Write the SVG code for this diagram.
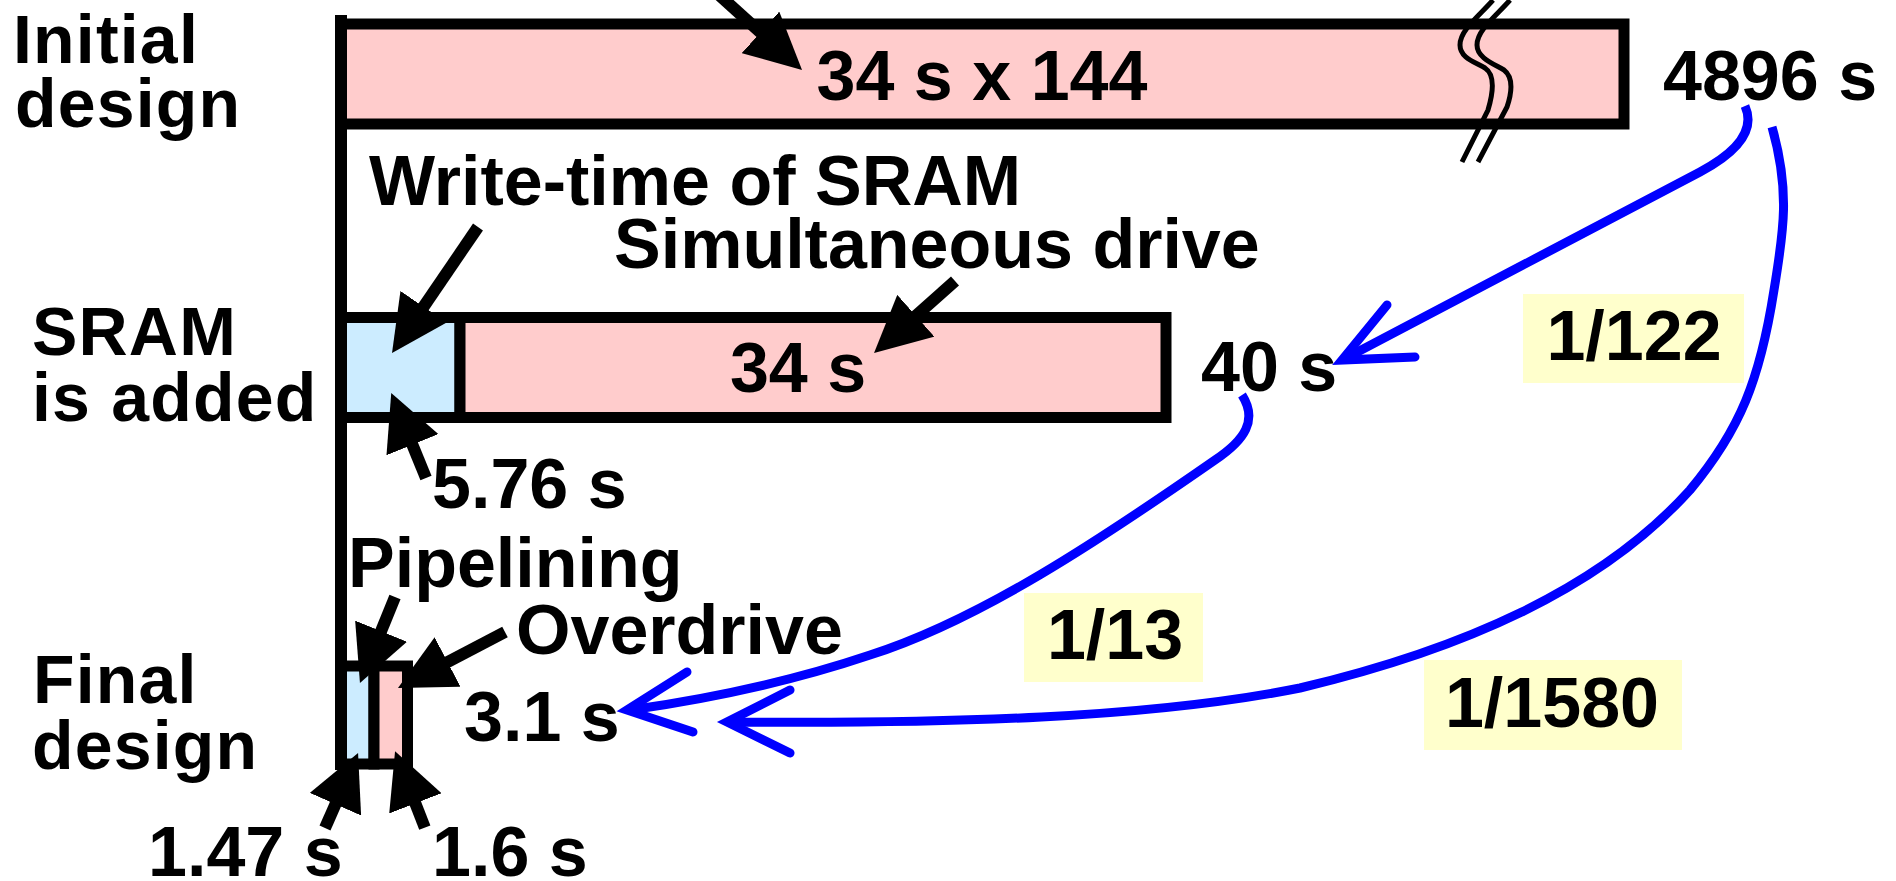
<svg xmlns="http://www.w3.org/2000/svg" width="1896" height="881" viewBox="0 0 1896 881">
<style>
.t{font-family:"Liberation Sans",Arial,sans-serif;font-weight:bold;font-size:70px;fill:#000}
.lb{font-size:68px;letter-spacing:1.2px}
.m{text-anchor:middle}
.pink{fill:#FFCCCC;stroke:#000;stroke-width:11}
.blue{fill:#CCECFF;stroke:#000;stroke-width:11}
.arr{stroke:#000;stroke-width:12;fill:none;marker-end:url(#ah)}
.bc{stroke:#0000FF;stroke-width:9;fill:none}
.bh{stroke:#0000FF;stroke-width:9;fill:none;stroke-linecap:round;stroke-linejoin:miter}
.brk{stroke:#000;stroke-width:5;fill:none}
.box{fill:#FFFFCC}
</style>
<defs>
<marker id="ah" markerUnits="userSpaceOnUse" viewBox="0 0 56 56" refX="36" refY="28" markerWidth="56" markerHeight="56" orient="auto">
<path d="M0,0 L56,28 L0,56 z" fill="#000"/>
</marker>
</defs>
<rect width="1896" height="881" fill="#fff"/>

<g id="row-initial">
<rect class="pink" x="341" y="24" width="1283" height="100"/>
<path class="brk" d="M1493,0 C1480,15 1460,30 1460,45 C1460,58 1475,62 1485,68 C1494,74 1494,90 1488,110 L1462,162"/>
<path class="brk" d="M1510,0 C1497,15 1477,30 1477,45 C1477,58 1494,64 1504,70 C1513,77 1512,92 1507,107 L1478,162"/>
<text class="t m" x="982" y="100">34 s x 144</text>
<text class="t" x="1663" y="100">4896 s</text>
</g>

<g id="row-sram">
<rect class="blue" x="341" y="317.5" width="119" height="100"/>
<rect class="pink" x="460" y="317.5" width="706" height="100"/>
<text class="t m" x="798" y="392">34 s</text>
<text class="t" x="1201" y="391">40 s</text>
</g>

<g id="row-final">
<rect class="blue" x="341" y="666" width="33" height="98"/>
<rect class="pink" x="374" y="666" width="33.5" height="98"/>
<text class="t" x="464" y="741">3.1 s</text>
</g>

<g id="axis">
<line x1="341" y1="15" x2="341" y2="770" stroke="#000" stroke-width="12"/>
</g>

<g id="labels">
<text class="t lb" x="13" y="63">Initial</text>
<text class="t lb" x="15" y="127">design</text>
<text class="t lb" x="32" y="355">SRAM</text>
<text class="t lb" x="32" y="421">is added</text>
<text class="t lb" x="33" y="703">Final</text>
<text class="t lb" x="32" y="769">design</text>
</g>

<g id="annotations">
<text class="t" x="369" y="205">Write-time of SRAM</text>
<text class="t" x="614" y="268">Simultaneous drive</text>
<text class="t" x="432" y="508">5.76 s</text>
<text class="t" x="348" y="587">Pipelining</text>
<text class="t" x="516" y="654">Overdrive</text>
<text class="t" x="148" y="876">1.47 s</text>
<text class="t" x="432" y="876">1.6 s</text>
</g>

<g id="ratio-1-122">
<rect class="box" x="1523" y="294" width="221" height="89"/>
<text class="t m" x="1634" y="360">1/122</text>
</g>
<g id="ratio-1-13">
<rect class="box" x="1024" y="593" width="179" height="89"/>
<text class="t m" x="1115" y="659">1/13</text>
</g>
<g id="ratio-1-1580">
<rect class="box" x="1424" y="660" width="258" height="90"/>
<text class="t m" x="1552" y="727">1/1580</text>
</g>

<g id="connectors">
<line class="arr" x1="718" y1="-6" x2="787.2" y2="56.5"/>
<line class="arr" x1="478" y1="227" x2="403.3" y2="336.5"/>
<line class="arr" x1="955" y1="281" x2="889" y2="339.7"/>
<line class="arr" x1="426" y1="478" x2="398.8" y2="411.4"/>
<line class="arr" x1="395" y1="597" x2="367.5" y2="664.5"/>
<line class="arr" x1="505" y1="632" x2="415.7" y2="678.7"/>
<line class="arr" x1="325" y1="828" x2="350" y2="771.3"/>
<line class="arr" x1="424.8" y1="827.7" x2="402.3" y2="769.8"/>

<path class="bc" d="M1745,106 Q1760,140 1700,172 L1346,358"/>
<path class="bh" d="M1387,305 L1342,360 L1415,357"/>

<path class="bc" d="M1772,127 C1790,190 1784,230 1774,290 C1760,380 1740,430 1690,490 C1600,590 1460,650 1300,688 C1150,718 950,724 730,722"/>
<path class="bh" d="M790,690 L727,722 L790,753"/>

<path class="bc" d="M1242,395 C1258,420 1245,440 1215,460 C1100,540 980,620 870,655 C790,682 700,700 630,710"/>
<path class="bh" d="M687,672 L627,710 L693,732"/>
</g>
</svg>
